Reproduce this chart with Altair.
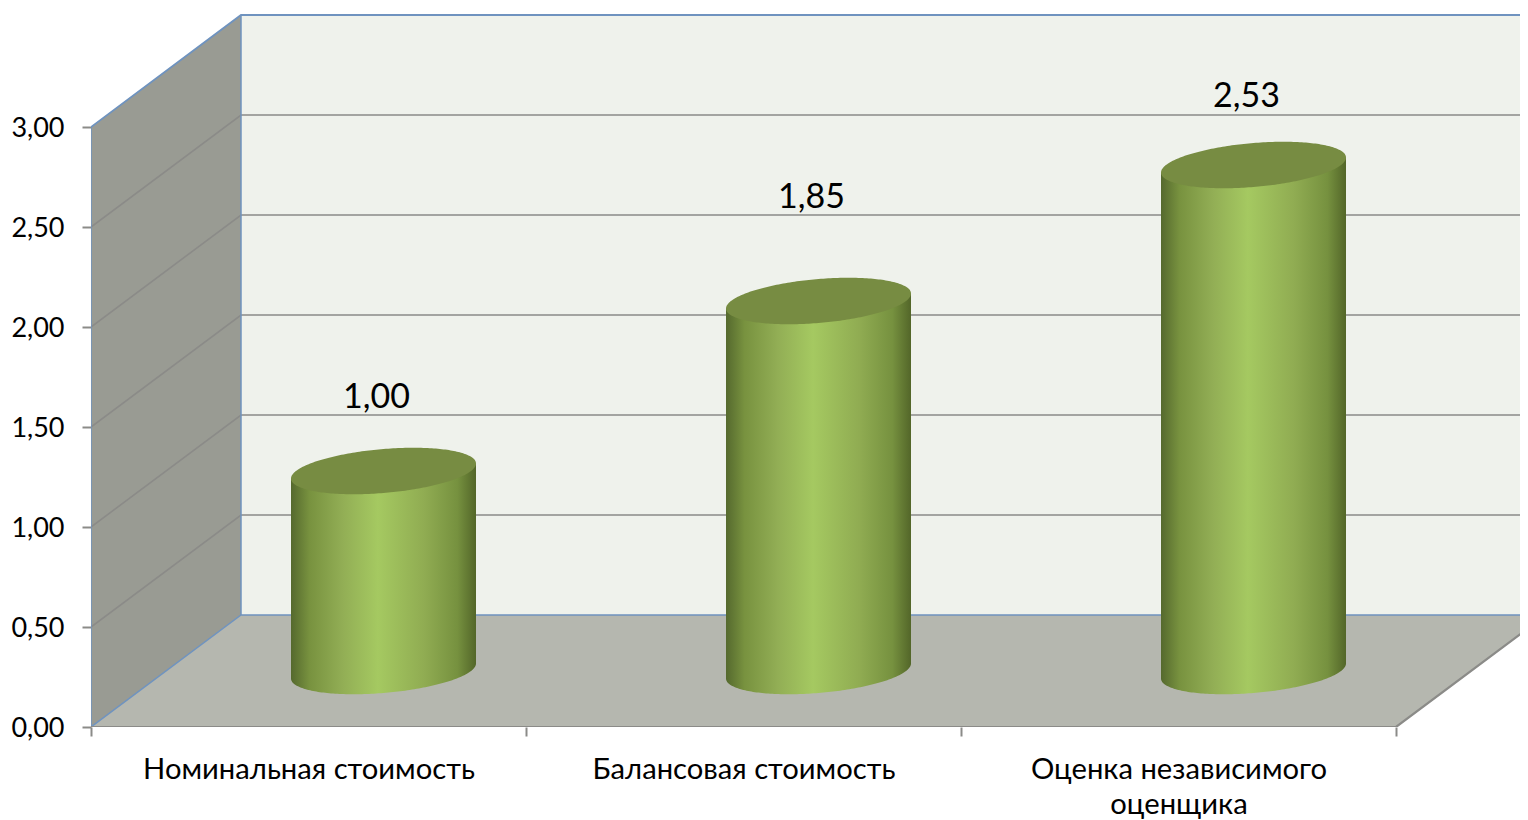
import numpy as np
import pandas as pd
import altair as alt

categories = ["Номинальная стоимость", "Балансовая стоимость", ["Оценка независимого", "оценщика"]]
values = [1.00, 1.85, 2.53]
value_labels = ["1,00", "1,85", "2,53"]
label_lift = [0.645, 0.795, 0.62]
y_ticks = [0, 0.5, 1, 1.5, 2, 2.5, 3]
grid_levels = [0.5, 1, 1.5, 2, 2.5]

FONT = "Lato"
PLOT_W = 1429
X_MAX = PLOT_W / 435
Y_MAX = 713 / 200
DX, DY = 150 / 435, 112 / 200      # depth of the 3-D box in data units
R, H, K = 92.5 / 435, 22 / 200, 0.177  # cylinder ellipse: half width, half height, tilt
BLUE, GREY = "#6f93bf", "#8b8b88"

xs = alt.Scale(domain=[0, X_MAX], nice=False, zero=False)
ys = alt.Scale(domain=[0, Y_MAX], nice=False, zero=False)
label_expr = (
    f"datum.value==0.5?'{categories[0]}':datum.value==1.5?'{categories[1]}':"
    f"datum.value==2.5?['{categories[2][0]}','{categories[2][1]}']:''"
)
x_axis = alt.Axis(
    values=[0, 0.5, 1, 1.5, 2, 2.5, 3], domain=False, grid=False, tickSize=9, tickWidth=2,
    tickColor=GREY, tickOpacity=alt.expr("datum.value % 1 == 0 ? 1 : 0"),
    labelExpr=label_expr, labelFont=FONT, labelFontSize=29.2, labelColor="#000000",
    labelPadding=19, labelLineHeight=35, labelBaseline="top", labelOverlap=False,
    labelBound=False, labelFlush=False, labelAngle=0, labelLimit=700)
y_axis = alt.Axis(
    values=y_ticks, domain=False, grid=False, tickSize=9, tickWidth=2, tickColor=GREY,
    labelExpr="replace(format(datum.value,'.2f'),'.',',')", labelFont=FONT,
    labelFontSize=27, labelColor="#000000", labelPadding=18, labelOverlap=False,
    labelBound=False, labelFlush=False, labelOffset=1)
NX = alt.X("x:Q", scale=xs, axis=x_axis, title=None)
NY = alt.Y("y:Q", scale=ys, axis=y_axis, title=None)

def area(xv, top, bottom, fill, clip=False):
    df = pd.DataFrame({"x": xv, "y": top, "y2": bottom})
    return alt.Chart(df).mark_area(fill=fill, opacity=1, clip=clip, line=False).encode(
        x=NX, y=NY, y2="y2:Q")

def line(xv, yv, color, w, clip=True):
    df = pd.DataFrame({"x": xv, "y": yv, "i": range(len(xv))})
    return alt.Chart(df).mark_line(color=color, strokeWidth=w, clip=clip).encode(
        x=NX, y=NY, order="i:Q")

layers = []

# walls and floor
layers.append(area([DX, X_MAX], [3 + DY, 3 + DY], [DY, DY], "#eff2ec"))
layers.append(area([0, DX], [3, 3 + DY], [0, DY], "#999b93"))
layers.append(area([0, DX, 3, 3 + DX], [0, DY, DY, DY], [0, 0, 0, DY], "#b5b7af", clip=True))

# grid lines
for v in grid_levels:
    layers.append(line([0, DX, X_MAX], [v, v + DY, v + DY], GREY, 1.6))

# box edges
layers.append(line([0, DX, X_MAX], [3, 3 + DY, 3 + DY], BLUE, 1.8))
layers.append(line([0, 0], [0, 3], BLUE, 1.5))
layers.append(line([DX, DX], [DY, 3 + DY], BLUE, 1.5))
layers.append(line([0, DX, X_MAX], [0, DY, DY], BLUE, 1.5))
layers.append(line([0, 3, 3 + DX], [0, 0, DY], GREY, 2.2))

# cylinders
body_fill = alt.Gradient(
    gradient="linear", x1=0, x2=1, y1=0, y2=0,
    stops=[alt.GradientStop(offset=0.0, color="#55692e"),
           alt.GradientStop(offset=0.10, color="#78923f"),
           alt.GradientStop(offset=0.28, color="#92ae55"),
           alt.GradientStop(offset=0.47, color="#a5c961"),
           alt.GradientStop(offset=0.72, color="#90ac52"),
           alt.GradientStop(offset=0.90, color="#76913f"),
           alt.GradientStop(offset=1.0, color="#536629")])
theta = np.linspace(0, np.pi, 121)
u = -R * np.cos(theta)
root = H * np.sin(theta)
for i, v in enumerate(values):
    cx = i + 0.5 + DX / 2
    base = DY / 2
    layers.append(area(cx + u, base + v + K * u, base + K * u - root, body_fill))
    layers.append(area(cx + u, base + v + K * u + root, base + v + K * u - root, "#778c42"))

# value labels
lab = pd.DataFrame({
    "x": [i + 0.5 + DX / 2 for i in range(3)],
    "y": [v + l for v, l in zip(values, label_lift)],
    "t": value_labels})
layers.append(alt.Chart(lab).mark_text(font=FONT, fontSize=34, color="#000000", dx=-7, baseline="middle").encode(
    x=NX, y=NY, text="t:N"))

chart = alt.layer(*layers).properties(
    width=PLOT_W, height=713,
    autosize=alt.AutoSizeParams(type="none"),
    padding={"left": 83, "top": 6, "right": 0, "bottom": 93},
).configure_view(stroke=None)

chart.save("out.html", embed_options={"renderer": "svg", "actions": False})
